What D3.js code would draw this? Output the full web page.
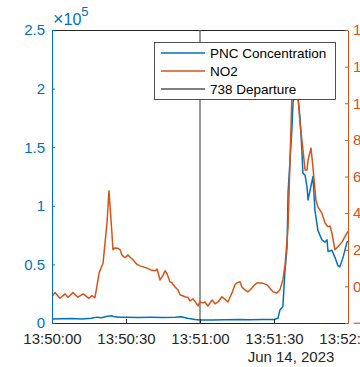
<!DOCTYPE html>
<html>
<head>
<meta charset="utf-8">
<script src="https://cdn.jsdelivr.net/npm/d3@7"></script>
<style>
  html, body { margin: 0; padding: 0; background: #fff; }
  svg { display: block; font-family: "Liberation Sans", Arial, sans-serif; }
</style>
</head>
<body>
<div id="chart"></div>
<script>
// seconds after 13:50:00
const no2Seconds = [0, 1.2, 3.2, 5.3, 6.5, 8.5, 10.5, 12.6, 15, 16.2, 17.4, 18.2, 19.1, 20.7, 22.3, 23.1, 24.3, 24.7, 25.5, 26.8,
  27.6, 28.4, 29.6, 30.8, 31.6, 32.8, 34.5, 35.7, 37.3, 38.5, 40.1, 41.8, 42.6, 43.8, 45, 45.8, 46.6, 47.8, 48.6, 49.9,
  51.1, 51.9, 53.9, 55.1, 55.9, 57.2, 58.4, 59.2, 60, 61.2, 62, 63.2, 64.9, 66.1, 67.3, 68.9, 70.1, 71.3, 73, 74.2,
  75, 76.2, 77, 78.2, 79.4, 80.3, 81.1, 82.3, 83.1, 85.1, 87.2, 88.4, 89.6, 91.2, 92.4, 93.6, 94.5, 95.3, 95.7, 96.5,
  97.3, 98.1, 98.9, 99.7, 100.5, 101.3, 102.6, 103.4, 103.8, 105, 105.8, 107, 107.8, 109.4, 110.7, 111.9, 112.7, 113.5, 114.7, 115.9,
  117.6, 119.6, 120];
const no2Values = [-0.55, -0.34, -0.65, -0.41, -0.59, -0.34, -0.59, -0.41, -0.65, -0.5, -0.62, 0, 0.74, 1.28, 3.47, 5.22, 2.9, 2.0, 2.1, 2.08,
  2.0, 1.7, 1.56, 1.72, 1.6, 1.45, 1.2, 1.12, 1.05, 1.0, 0.9, 0.85, 0.95, 0.35, 0.6, 0.85, 0.7, 0.25, 0.2, -0.03,
  -0.2, -0.46, -0.57, -0.6, -0.79, -0.68, -0.9, -1.07, -0.85, -0.9, -0.85, -1.07, -0.74, -0.95, -0.85, -0.57, -0.7, -0.85, -0.35, 0.1,
  0.19, 0.25, -0.03, -0.19, -0.3, -0.2, -0.08, 0.1, 0.19, 0.19, 0.08, -0.1, -0.3, -0.36, -0.19, 0.35, 1.2, 2.5, 3.25, 6.9,
  10.6, 11.5, 11.8, 10.4, 9.0, 8.0, 6.36, 6.36, 6.9, 7.55, 6.5, 4.7, 4.34, 4.0, 3.46, 3.25, 3.3, 2.9, 2.0, 2.16,
  2.43, 2.92, 3.0];

const pncSeconds = [0, 4, 8, 12, 16, 18.2, 20, 22, 24, 25, 27, 30, 35, 40, 45, 50, 52.3, 55, 58, 60,
  65, 70, 76, 80, 85, 90, 91.6, 92.4, 93.6, 94.4, 95.3, 95.7, 96.5, 97.3, 97.7, 98.5, 99.3, 100.5, 101.3, 101.7,
  102.6, 103.4, 103.8, 104.6, 105.8, 106.6, 107.8, 109.4, 110.7, 111.5, 111.9, 113.5, 114.7, 115.9, 116.7, 118, 119.6, 120];
const pncValues = [3400, 3600, 3800, 3400, 4000, 5000, 4500, 5500, 6200, 5500, 5000, 4800, 4700, 4800, 4700, 5000, 5400, 4000, 3000, 2600,
  2600, 2700, 3000, 2800, 3000, 3000, 4000, 11000, 14000, 43000, 65000, 111000, 139000, 167000, 188000, 195000, 202000, 176000, 148000, 128000,
  126000, 116000, 105000, 113000, 125000, 96000, 79000, 71000, 69000, 71000, 61000, 62000, 56000, 49000, 48000, 56000, 69000, 70000];

const departureSecond = 60;
const leftTicks = [0, 0.5e5, 1e5, 1.5e5, 2e5, 2.5e5];
const leftTickLabels = ["0", "0.5", "1", "1.5", "2", "2.5"];
const rightTicks = [-2, 0, 2, 4, 6, 8, 10, 12, 14];
const timeTickSeconds = [0, 30, 60, 90, 120];
const legendLabels = ["PNC Concentration", "NO2", "738 Departure"];

const blue = "#0072BD", orange = "#D95319", grey = "#555555", ink = "#262626";
const W = 360, H = 367;
const plotLeft = 52, plotRight = 348, plotTop = 30, plotBottom = 323;

const start = new Date(2023, 5, 14, 13, 50, 0);
const toDate = s => new Date(+start + s * 1000);

const x = d3.scaleTime().domain([start, toDate(120)]).range([plotLeft, plotRight]);
const yL = d3.scaleLinear().domain([0, 2.5e5]).range([plotBottom, plotTop]);
const yR = d3.scaleLinear().domain([-2, 14]).range([plotBottom, plotTop]);

const svg = d3.select("#chart").append("svg").attr("width", W).attr("height", H);

svg.append("clipPath").attr("id", "plot")
  .append("rect").attr("x", plotLeft).attr("y", plotTop)
  .attr("width", plotRight - plotLeft).attr("height", plotBottom - plotTop);

// box top edge
svg.append("line").attr("x1", plotLeft).attr("x2", plotRight).attr("y1", plotTop + 0.5).attr("y2", plotTop + 0.5)
  .attr("stroke", ink).attr("stroke-width", 1);

const plot = svg.append("g").attr("clip-path", "url(#plot)");

plot.append("line")
  .attr("x1", x(toDate(departureSecond))).attr("x2", x(toDate(departureSecond)))
  .attr("y1", plotTop).attr("y2", plotBottom)
  .attr("stroke", grey).attr("stroke-width", 1.2);

const pncLine = d3.line().x((d, i) => x(toDate(pncSeconds[i]))).y(d => yL(d));
const no2Line = d3.line().x((d, i) => x(toDate(no2Seconds[i]))).y(d => yR(d));

plot.append("path").datum(pncValues).attr("d", pncLine)
  .attr("fill", "none").attr("stroke", blue).attr("stroke-width", 1.5).attr("stroke-linejoin", "round");
plot.append("path").datum(no2Values).attr("d", no2Line)
  .attr("fill", "none").attr("stroke", orange).attr("stroke-width", 1.5).attr("stroke-linejoin", "round");

// x axis
const xAxis = svg.append("g").attr("transform", `translate(0,${plotBottom})`)
  .call(d3.axisBottom(x).tickValues(timeTickSeconds.map(toDate))
    .tickFormat(d3.timeFormat("%H:%M:%S")).tickSizeInner(-4).tickSizeOuter(0).tickPadding(10));
xAxis.select(".domain").attr("stroke", ink);
xAxis.selectAll(".tick line").attr("stroke", ink);
xAxis.selectAll("text").attr("fill", ink).attr("font-size", 15).attr("font-family", "Liberation Sans, Arial, sans-serif");

svg.append("text").attr("x", 291).attr("y", 362).attr("text-anchor", "middle")
  .attr("fill", ink).attr("font-size", 15).text("Jun 14, 2023");

// left axis
const lAxis = svg.append("g").attr("transform", `translate(${plotLeft},0)`)
  .call(d3.axisLeft(yL).tickValues(leftTicks).tickFormat((d, i) => leftTickLabels[i])
    .tickSizeInner(-3).tickSizeOuter(0).tickPadding(7));
lAxis.select(".domain").attr("stroke", blue);
lAxis.selectAll(".tick line").attr("stroke", blue);
lAxis.selectAll("text").attr("fill", blue).attr("font-size", 15).attr("font-family", "Liberation Sans, Arial, sans-serif");

const expo = svg.append("text").attr("x", 53).attr("y", 25).attr("fill", blue).attr("font-size", 16);
expo.append("tspan").attr("font-size", 18).text("\u00d7");
expo.append("tspan").text("10");
expo.append("tspan").attr("dy", -9).attr("font-size", 13).text("5");

// right axis
const rAxis = svg.append("g").attr("transform", `translate(${plotRight},0)`)
  .call(d3.axisRight(yR).tickValues(rightTicks).tickFormat(d => d < 0 ? "\u2212" + Math.abs(d) : d)
    .tickSizeInner(-3).tickSizeOuter(0).tickPadding(5));
rAxis.select(".domain").attr("stroke", orange);
rAxis.selectAll(".tick line").attr("stroke", orange);
rAxis.selectAll("text").attr("fill", orange).attr("font-size", 15).attr("font-family", "Liberation Sans, Arial, sans-serif");

// legend
const legend = svg.append("g");
legend.append("rect").attr("x", 154.5).attr("y", 42.5).attr("width", 181).attr("height", 57)
  .attr("fill", "#fff").attr("stroke", ink).attr("stroke-width", 0.8);
const legendColors = [blue, orange, grey];
legendLabels.forEach((label, i) => {
  const ly = 53 + i * 18;
  legend.append("line").attr("x1", 161).attr("x2", 205).attr("y1", ly).attr("y2", ly)
    .attr("stroke", legendColors[i]).attr("stroke-width", 1.5);
  legend.append("text").attr("x", 210).attr("y", ly).attr("dy", "0.35em")
    .attr("fill", "#000").attr("font-size", 13.5).text(label);
});
</script>
</body>
</html>
